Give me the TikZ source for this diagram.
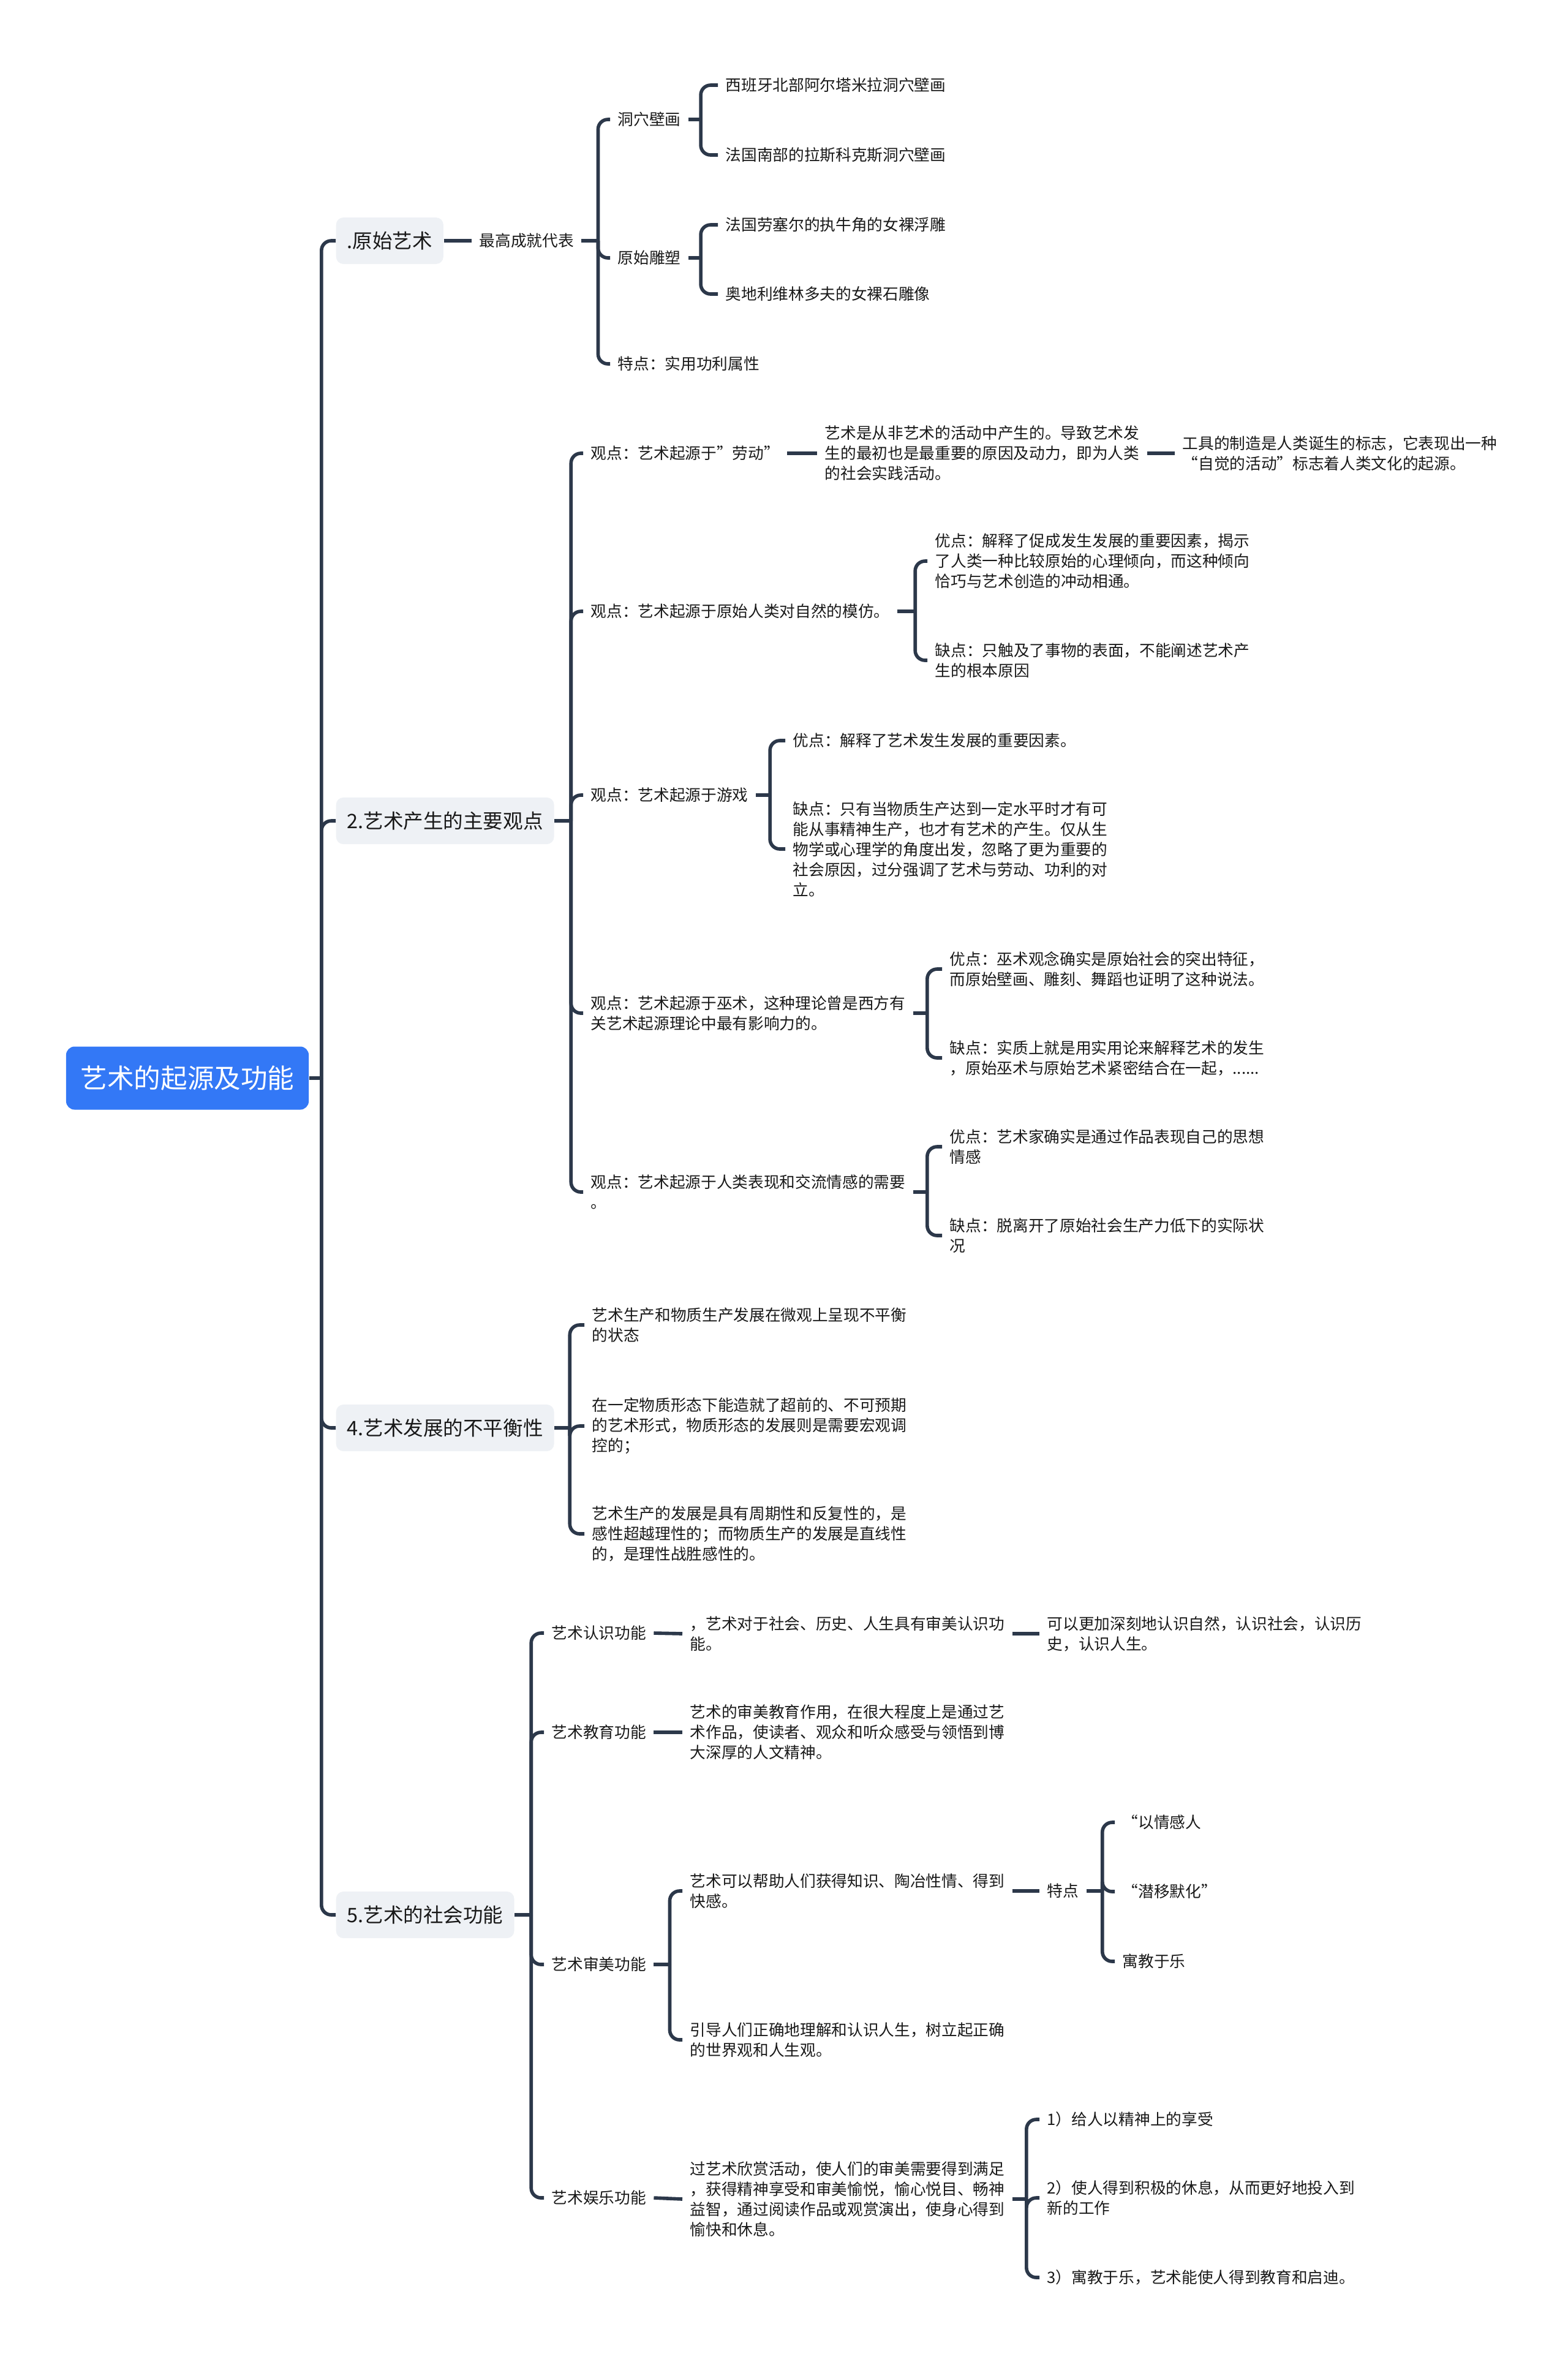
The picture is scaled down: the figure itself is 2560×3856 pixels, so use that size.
\documentclass[tikz,border=0pt]{standalone}
\usepackage{fontspec}
\setmainfont{Noto Sans CJK SC}
\usepackage{xcolor}
\usepackage{tikz}
\definecolor{rootblock}{RGB}{51, 120, 246}
\definecolor{topicblock}{RGB}{238, 241, 245}
\definecolor{linecol}{RGB}{44, 56, 74}
\definecolor{txtcol}{RGB}{25, 25, 25}

\begin{document}
\begin{tikzpicture}[x=0.01cm, y=-0.01cm,
		conn/.style={draw=linecol, line width=1.6pt, rounded corners=0.16cm},
		leaf/.style={anchor=west, align=left, inner xsep=0.12cm, inner ysep=0.04cm, text=txtcol, font=\fontsize{7.3}{9.4}\selectfont},
		topic/.style={anchor=west, fill=topicblock, rounded corners=0.12cm, inner xsep=0.18cm, inner ysep=0.23cm, text=txtcol, font=\fontsize{9.25}{11}\selectfont},
		rootbox/.style={fill=rootblock, rounded corners=0.14cm, text=white, minimum width=3.96cm, minimum height=1.03cm, font=\fontsize{12.4}{14}\selectfont}]
			\useasboundingbox (0,0) rectangle (2560,3856);

			\node[rootbox] (root) at (306,1760) {艺术的起源及功能};

			\node[topic] (a) at (548,393)  {.原始艺术};
			\node[topic] (b) at (548,1340) {2.艺术产生的主要观点};
			\node[topic] (c) at (548,2331) {4.艺术发展的不平衡性};
			\node[topic] (d) at (548,3126) {5.艺术的社会功能};

			\draw[conn] (root.east) -- ++(20,0) coordinate (rootb);
			\foreach \t in {a,b,c,d} \draw[conn] (rootb) |- (\t.west);

			% .原始艺术
			\node[leaf] (a1) at (770,393) {最高成就代表};
			\draw[conn] (a.east) -- (a1.west);

			\node[leaf] (a11) at (996,195) {洞穴壁画};
			\node[leaf] (a12) at (996,421) {原始雕塑};
			\node[leaf] (a13) at (996,594) {特点：实用功利属性};
			\draw[conn] (a1.east) -- ++(27,0) coordinate (a1b);
			\foreach \c in {a11,a12,a13} \draw[conn] (a1b) |- (\c.west);

			\node[leaf] (a111) at (1172,139) {西班牙北部阿尔塔米拉洞穴壁画};
			\node[leaf] (a112) at (1172,253) {法国南部的拉斯科克斯洞穴壁画};
			\draw[conn] (a11.east) -- ++(20,0) coordinate (a11b);
			\foreach \c in {a111,a112} \draw[conn] (a11b) |- (\c.west);

			\node[leaf] (a121) at (1172,367) {法国劳塞尔的执牛角的女裸浮雕};
			\node[leaf] (a122) at (1172,480) {奥地利维林多夫的女裸石雕像};
			\draw[conn] (a12.east) -- ++(20,0) coordinate (a12b);
			\foreach \c in {a121,a122} \draw[conn] (a12b) |- (\c.west);

			% 2.艺术产生的主要观点
			\node[leaf] (b1) at (952,740)  {观点：艺术起源于”劳动”};
			\node[leaf] (b2) at (952,998)  {观点：艺术起源于原始人类对自然的模仿。};
			\node[leaf] (b3) at (952,1298) {观点：艺术起源于游戏};
			\node[leaf] (b4) at (952,1654) {观点：艺术起源于巫术，这种理论曾是西方有\\关艺术起源理论中最有影响力的。};
			\node[leaf] (b5) at (952,1946) {观点：艺术起源于人类表现和交流情感的需要\\。};
			\draw[conn] (b.east) -- ++(27,0) coordinate (bb);
			\foreach \c in {b1,b2,b3,b4,b5} \draw[conn] (bb) |- (\c.west);

			\node[leaf] (b11) at (1334,740) {艺术是从非艺术的活动中产生的。导致艺术发\\生的最初也是最重要的原因及动力，即为人类\\的社会实践活动。};
			\node[leaf] (b111) at (1918,740) {工具的制造是人类诞生的标志，它表现出一种\\“自觉的活动”标志着人类文化的起源。};
			\draw[conn] (b1.east) -- (b11.west);
			\draw[conn] (b11.east) -- (b111.west);

			\node[leaf] (b21) at (1514,916)  {优点：解释了促成发生发展的重要因素，揭示\\了人类一种比较原始的心理倾向，而这种倾向\\恰巧与艺术创造的冲动相通。};
			\node[leaf] (b22) at (1514,1078) {缺点：只触及了事物的表面，不能阐述艺术产\\生的根本原因};
			\draw[conn] (b2.east) -- ++(29,0) coordinate (b2b);
			\foreach \c in {b21,b22} \draw[conn] (b2b) |- (\c.west);

			\node[leaf] (b31) at (1282,1209) {优点：解释了艺术发生发展的重要因素。};
			\node[leaf] (b32) at (1282,1386) {缺点：只有当物质生产达到一定水平时才有可\\能从事精神生产，也才有艺术的产生。仅从生\\物学或心理学的角度出发，忽略了更为重要的\\社会原因，过分强调了艺术与劳动、功利的对\\立。};
			\draw[conn] (b3.east) -- ++(23,0) coordinate (b3b);
			\foreach \c in {b31,b32} \draw[conn] (b3b) |- (\c.west);

			\node[leaf] (b41) at (1538,1582) {优点：巫术观念确实是原始社会的突出特征，\\而原始壁画、雕刻、舞蹈也证明了这种说法。};
			\node[leaf] (b42) at (1538,1727) {缺点：实质上就是用实用论来解释艺术的发生\\，原始巫术与原始艺术紧密结合在一起，......};
			\draw[conn] (b4.east) -- ++(23,0) coordinate (b4b);
			\foreach \c in {b41,b42} \draw[conn] (b4b) |- (\c.west);

			\node[leaf] (b51) at (1538,1872) {优点：艺术家确实是通过作品表现自己的思想\\情感};
			\node[leaf] (b52) at (1538,2017) {缺点：脱离开了原始社会生产力低下的实际状\\况};
			\draw[conn] (b5.east) -- ++(23,0) coordinate (b5b);
			\foreach \c in {b51,b52} \draw[conn] (b5b) |- (\c.west);

			% 4.艺术发展的不平衡性
			\node[leaf] (c1) at (954,2163) {艺术生产和物质生产发展在微观上呈现不平衡\\的状态};
			\node[leaf] (c2) at (954,2328) {在一定物质形态下能造就了超前的、不可预期\\的艺术形式，物质形态的发展则是需要宏观调\\控的；};
			\node[leaf] (c3) at (954,2504) {艺术生产的发展是具有周期性和反复性的，是\\感性超越理性的；而物质生产的发展是直线性\\的，是理性战胜感性的。};
			\draw[conn] (c.east) -- ++(25,0) coordinate (cb);
			\foreach \c in {c1,c2,c3} \draw[conn] (cb) |- (\c.west);

			% 5.艺术的社会功能
			\node[leaf] (d1) at (888,2666) {艺术认识功能};
			\node[leaf] (d2) at (888,2828) {艺术教育功能};
			\node[leaf] (d3) at (888,3207) {艺术审美功能};
			\node[leaf] (d4) at (888,3588) {艺术娱乐功能};
			\draw[conn] (d.east) -- ++(27,0) coordinate (db);
			\foreach \c in {d1,d2,d3,d4} \draw[conn] (db) |- (\c.west);

			\node[leaf] (d11) at (1114,2667) {，艺术对于社会、历史、人生具有审美认识功\\能。};
			\node[leaf] (d111) at (1697,2667) {可以更加深刻地认识自然，认识社会，认识历\\史，认识人生。};
			\draw[conn] (d1.east) -- (d11.west);
			\draw[conn] (d11.east) -- (d111.west);

			\node[leaf] (d21) at (1114,2828) {艺术的审美教育作用，在很大程度上是通过艺\\术作品，使读者、观众和听众感受与领悟到博\\大深厚的人文精神。};
			\draw[conn] (d2.east) -- (d21.west);

			\node[leaf] (d31) at (1114,3087) {艺术可以帮助人们获得知识、陶冶性情、得到\\快感。};
			\node[leaf] (d32) at (1114,3330) {引导人们正确地理解和认识人生，树立起正确\\的世界观和人生观。};
			\draw[conn] (d3.east) -- ++(26,0) coordinate (d3b);
			\foreach \c in {d31,d32} \draw[conn] (d3b) |- (\c.west);

			\node[leaf] (d311) at (1697,3087) {特点};
			\draw[conn] (d31.east) -- (d311.west);
			\node[leaf] (d3111) at (1820,2975) {“以情感人};
			\node[leaf] (d3112) at (1820,3088) {“潜移默化”};
			\node[leaf] (d3113) at (1820,3202) {寓教于乐};
			\draw[conn] (d311.east) -- ++(26,0) coordinate (d311b);
			\foreach \c in {d3111,d3112,d3113} \draw[conn] (d311b) |- (\c.west);

			\node[leaf] (d41) at (1114,3590) {过艺术欣赏活动，使人们的审美需要得到满足\\，获得精神享受和审美愉悦，愉心悦目、畅神\\益智，通过阅读作品或观赏演出，使身心得到\\愉快和休息。};
			\draw[conn] (d4.east) -- (d41.west);
			\node[leaf] (d411) at (1697,3460) {1）给人以精神上的享受};
			\node[leaf] (d412) at (1697,3588) {2）使人得到积极的休息，从而更好地投入到\\新的工作};
			\node[leaf] (d413) at (1697,3718) {3）寓教于乐，艺术能使人得到教育和启迪。};
			\draw[conn] (d41.east) -- ++(23,0) coordinate (d41b);
			\foreach \c in {d411,d412,d413} \draw[conn] (d41b) |- (\c.west);

		\end{tikzpicture}
\end{document}
